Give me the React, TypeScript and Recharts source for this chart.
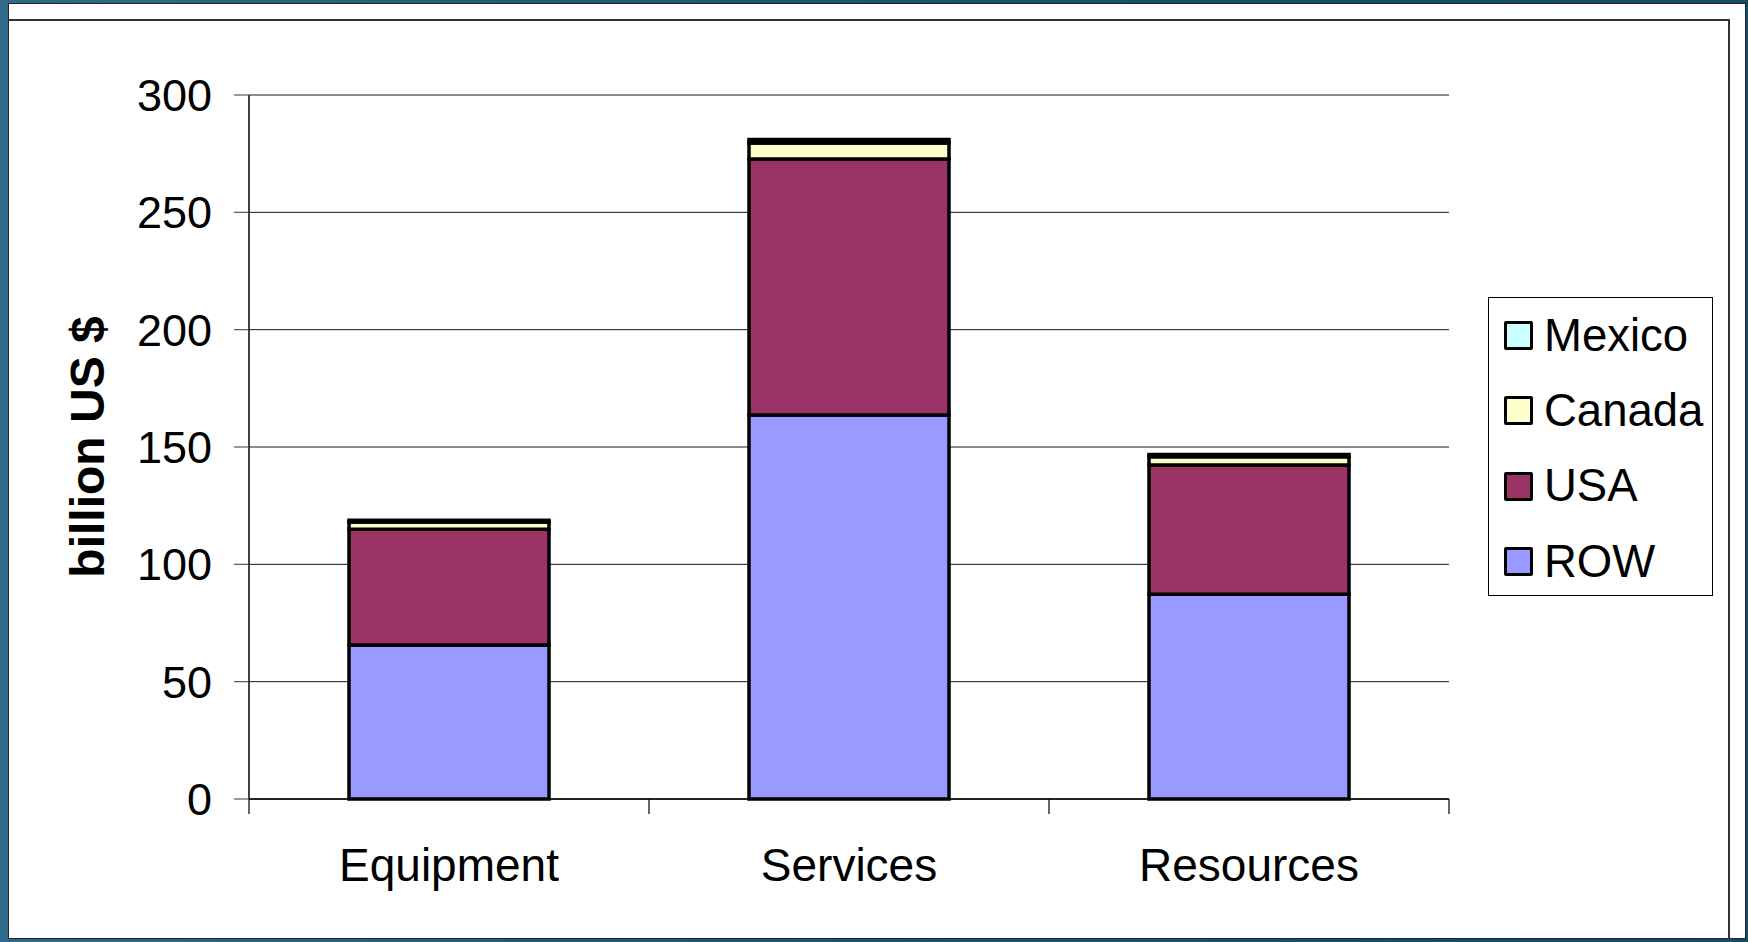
import { Bar, BarChart, CartesianGrid, Legend, XAxis, YAxis } from 'recharts';

const categories = ['Equipment', 'Services', 'Resources'];
const row = [65.6, 163.6, 87.3];
const usa = [49.4, 109.1, 55.0];
const canada = [3.0, 6.8, 3.5];
const mexico = [0.8, 1.5, 1.0];
const yTicks = [0, 50, 100, 150, 200, 250, 300];

const series = [
  { key: 'ROW', color: '#9999FF' },
  { key: 'USA', color: '#993366' },
  { key: 'Canada', color: '#FFFFCC' },
  { key: 'Mexico', color: '#CCFFFF' },
];

const data = categories.map((c, i) => ({
  name: c, ROW: row[i], USA: usa[i], Canada: canada[i], Mexico: mexico[i],
}));

const W = 1748;
const H = 942;
const PLOT_LEFT = 249;
const PLOT_RIGHT = 1449;
const FONT = '"Liberation Sans", Arial, sans-serif';
const half = (PLOT_RIGHT - PLOT_LEFT) / categories.length / 2;

function XTick(props: any) {
  const { x, y, payload, index } = props;
  const last = index === categories.length - 1;
  return (
    <g>
      <line x1={x - half} x2={x - half} y1={y - 15} y2={y} stroke="#000" strokeWidth={1.2} />
      {last && <line x1={x + half} x2={x + half} y1={y - 15} y2={y} stroke="#000" strokeWidth={1.2} />}
      <text x={x} y={y + 67} textAnchor="middle" fontSize={46} fontFamily={FONT} fill="#000">{payload.value}</text>
    </g>
  );
}

function LegendBox() {
  return (
    <div style={{ width: 225, height: 299, border: '1.5px solid #000', background: '#fff', boxSizing: 'border-box', paddingTop: 0, fontFamily: FONT }}>
      {[...series].reverse().map((s) => (
        <div key={s.key} style={{ display: 'flex', alignItems: 'center', height: 75.3, paddingLeft: 15 }}>
          <div style={{ width: 29, height: 29, background: s.color, border: '3.5px solid #000', boxSizing: 'border-box', borderRadius: 2 }} />
          <span style={{ fontSize: 45.5, marginLeft: 11, color: '#000', lineHeight: 1 }}>{s.key}</span>
        </div>
      ))}
    </div>
  );
}

export default function App() {
  return (
    <div style={{ position: 'absolute', left: 0, top: 0, width: W, height: H, background: 'linear-gradient(90deg, #2d6a8c 0%, #1a5272 50%, #154a68 100%)', overflow: 'hidden' }}>
      <div style={{ position: 'absolute', left: 8, top: 3, width: 1738, height: 936, background: '#fff', border: '1.5px solid #222', boxSizing: 'border-box' }} />
      <div style={{ position: 'absolute', left: 8, top: 19, width: 1722, height: 920, borderTop: '2px solid #333', borderRight: '2px solid #333', borderLeft: '1.5px solid #222', boxSizing: 'border-box' }} />
      <div style={{ position: 'absolute', left: 0, top: 0 }}>
        <BarChart
          width={W}
          height={H}
          data={data}
          barCategoryGap="25%"
          margin={{ top: 95, right: W - PLOT_RIGHT, bottom: 43, left: PLOT_LEFT - 150 }}
        >
          <CartesianGrid vertical={false} stroke="#1a1a1a" strokeWidth={1} />
          <XAxis
            dataKey="name"
            height={100}
            axisLine={{ stroke: '#000', strokeWidth: 1.5 }}
            tickLine={false}
            tickSize={15}
            tickMargin={0}
            interval={0}
            tick={<XTick />}
          />
          <YAxis
            width={150}
            domain={[0, 300]}
            ticks={yTicks}
            interval={0}
            axisLine={{ stroke: '#000', strokeWidth: 1.5 }}
            tickLine={{ stroke: '#555', strokeWidth: 1.2 }}
            tickSize={15}
            tickMargin={22}
            tick={{ fontSize: 45, fill: '#000', fontFamily: FONT }}
            label={{
              value: 'billion US $',
              angle: -90,
              position: 'insideLeft',
              offset: -12,
              style: { textAnchor: 'middle', fontSize: 48, fontWeight: 'bold', fill: '#000', fontFamily: FONT },
            }}
          />
          <Legend
            layout="vertical"
            align="center"
            verticalAlign="middle"
            wrapperStyle={{ left: 1488, top: 297, width: 225, height: 299 }}
            content={<LegendBox />}
          />
          {series.map((s) => (
            <Bar key={s.key} dataKey={s.key} stackId="a" fill={s.color} stroke="#000" strokeWidth={3.5} isAnimationActive={false} />
          ))}
        </BarChart>
      </div>
    </div>
  );
}
